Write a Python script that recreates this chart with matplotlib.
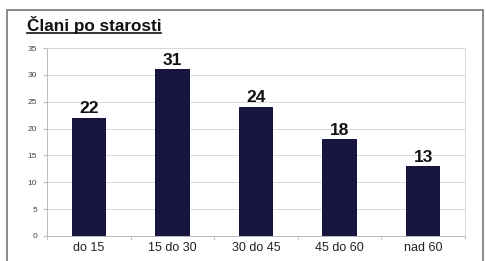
import matplotlib.pyplot as plt
from matplotlib.patches import Rectangle
import numpy as np

categories = ["do 15", "15 do 30", "30 do 45", "45 do 60", "nad 60"]
values = [22, 31, 24, 18, 13]
y_ticks = [0, 5, 10, 15, 20, 25, 30, 35]

plt.rcParams['font.family'] = ['Liberation Sans', 'DejaVu Sans']

fig = plt.figure(figsize=(4.86, 2.61), dpi=100)
W, H = 486, 261

# outer frame of the scanned chart
fig.patches.append(Rectangle((7 / W, -0.05), (483 - 7) / W, 1.05 - 10 / H,
                             transform=fig.transFigure, fill=False,
                             edgecolor='#777777', linewidth=1.2))

ax = fig.add_axes([47 / W, 1 - 236 / H, (465 - 47) / W, (236 - 48) / H])

x = np.arange(len(categories))
ax.bar(x, values, width=0.41, color='#15153f', zorder=3)
for xi, v in zip(x, values):
    ax.text(xi, v + 0.3, str(v), ha='center', va='bottom',
            fontsize=12.5, fontweight='bold', color='#111111')

ax.set_xlim(-0.5, len(categories) - 0.5)
ax.set_ylim(0, 35)
ax.set_yticks(y_ticks)
ax.set_yticklabels([str(t) for t in y_ticks], fontsize=6, color='#444444')
ax.set_xticks(x)
ax.set_xticklabels(categories, fontsize=9, color='#222222')
ax.set_xticks(np.arange(-0.5, len(categories)), minor=True)
ax.tick_params(axis='x', which='major', length=0, pad=4)
ax.tick_params(axis='x', which='minor', length=3, color='#bbbbbb')
ax.tick_params(axis='y', length=3, color='#bbbbbb', pad=4)

ax.grid(axis='y', color='#d8d8d8', linewidth=0.7, zorder=0)
for side in ['top', 'right']:
    ax.spines[side].set_color('#d8d8d8')
    ax.spines[side].set_linewidth(0.7)
for side in ['left', 'bottom']:
    ax.spines[side].set_color('#bbbbbb')
    ax.spines[side].set_linewidth(0.7)

fig.text(27 / W, 1 - 25 / H, "Člani po starosti", fontsize=12.3,
         fontweight='bold', va='center', ha='left', color='#111111')
fig.add_artist(plt.Line2D([27 / W, 161 / W], [1 - 33 / H, 1 - 33 / H],
                          transform=fig.transFigure, color='#111111',
                          linewidth=1.2))

fig.savefig("out.png", dpi=100)
